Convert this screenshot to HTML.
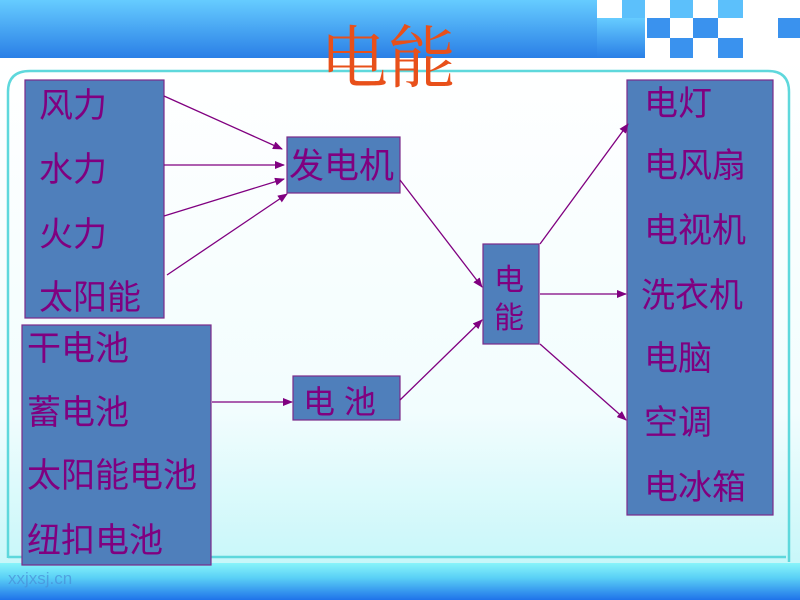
<!DOCTYPE html>
<html><head><meta charset="utf-8"><style>
html,body{margin:0;padding:0;width:800px;height:600px;overflow:hidden;background:#fff}
svg text{font-family:"Liberation Sans","Noto Sans CJK SC",sans-serif;fill:#800080}
</style></head><body>
<svg width="800" height="600" xmlns="http://www.w3.org/2000/svg">
<defs>
<linearGradient id="tb" x1="0" y1="0" x2="0" y2="1"><stop offset="0" stop-color="#66ccff"/><stop offset="1" stop-color="#2a7fe6"/></linearGradient>
<linearGradient id="bb" x1="0" y1="0" x2="0" y2="1"><stop offset="0" stop-color="#88f4fa"/><stop offset="0.4" stop-color="#5ad0f6"/><stop offset="1" stop-color="#1f73ea"/></linearGradient>
<linearGradient id="bg" x1="0" y1="0" x2="0" y2="1"><stop offset="0" stop-color="#ffffff"/><stop offset="0.7" stop-color="#f2fdfe"/><stop offset="1" stop-color="#c8f7f9"/></linearGradient>
<marker id="a" markerWidth="10" markerHeight="8" refX="9" refY="4" orient="auto" markerUnits="userSpaceOnUse"><path d="M0,0 L10,4 L0,8 z" fill="#800080"/></marker>
</defs>
<rect x="0" y="58" width="800" height="505" fill="url(#bg)"/>
<rect x="0" y="0" width="597" height="58" fill="url(#tb)"/>
<rect x="597" y="18" width="48" height="40" fill="url(#tb)"/>
<g fill="#3a92ee">
<rect x="622" y="0" width="23" height="18" fill="#5cc0fb"/>
<rect x="647" y="18" width="23" height="20"/>
<rect x="670" y="0" width="23" height="18" fill="#5cc0fb"/>
<rect x="670" y="38" width="23" height="20"/>
<rect x="693" y="18" width="25" height="20"/>
<rect x="718" y="0" width="25" height="18" fill="#5cc0fb"/>
<rect x="718" y="38" width="25" height="20"/>
<rect x="778" y="18" width="22" height="20"/>
</g>
<path d="M8,558 L8,92 Q8,71 30,71 L768,71 Q789,71 789,92 L789,562" fill="none" stroke="#5ed8dc" stroke-width="2.5"/>
<line x1="8" y1="557" x2="786" y2="557" stroke="#5ed8dc" stroke-width="2.5"/>
<rect x="0" y="563" width="800" height="37" fill="url(#bb)"/>
<text x="320" y="82" style="font-size:68px;fill:#e8501a;font-family:'Liberation Serif','Noto Serif CJK SC',serif">电能</text>
<text x="8" y="584" style="font-size:17px;fill:#4a8fd8;opacity:0.7">xxjxsj.cn</text>
<g fill="#4f7fbb" stroke="#7b2a8a" stroke-width="1.2">
<rect x="25" y="80" width="139" height="238"/>
<rect x="22" y="325" width="189" height="240"/>
<rect x="287" y="137" width="113" height="56"/>
<rect x="293" y="376" width="107" height="44"/>
<rect x="483" y="244" width="56" height="100"/>
<rect x="627" y="80" width="146" height="435"/>
</g>
<g style="font-size:34px">
<text x="39" y="117">风力</text>
<text x="39" y="181">水力</text>
<text x="39" y="246">火力</text>
<text x="39" y="309">太阳能</text>
<text x="27" y="360">干电池</text>
<text x="27" y="424">蓄电池</text>
<text x="27" y="487">太阳能电池</text>
<text x="27" y="552">纽扣电池</text>
<text x="289" y="178" style="font-size:35px">发电机</text>
<text x="303" y="413" style="font-size:32px">电 池</text>
<text x="494" y="290" style="font-size:30px">电</text>
<text x="494" y="328" style="font-size:30px">能</text>
<text x="644" y="115">电灯</text>
<text x="644" y="177">电风扇</text>
<text x="644" y="242">电视机</text>
<text x="641" y="307">洗衣机</text>
<text x="644" y="370">电脑</text>
<text x="644" y="434">空调</text>
<text x="644" y="499">电冰箱</text>
</g>
<g stroke="#800080" stroke-width="1.3" fill="none" marker-end="url(#a)">
<line x1="164" y1="96" x2="282" y2="149"/>
<line x1="164" y1="165" x2="284" y2="165"/>
<line x1="164" y1="216" x2="284" y2="179"/>
<line x1="167" y1="275" x2="287" y2="194"/>
<line x1="400" y1="180" x2="482" y2="287"/>
<line x1="400" y1="400" x2="482" y2="320"/>
<line x1="212" y1="402" x2="292" y2="402"/>
<line x1="540" y1="244" x2="628" y2="124"/>
<line x1="540" y1="294" x2="626" y2="294"/>
<line x1="540" y1="344" x2="626" y2="420"/>
</g>
</svg>
</body></html>
